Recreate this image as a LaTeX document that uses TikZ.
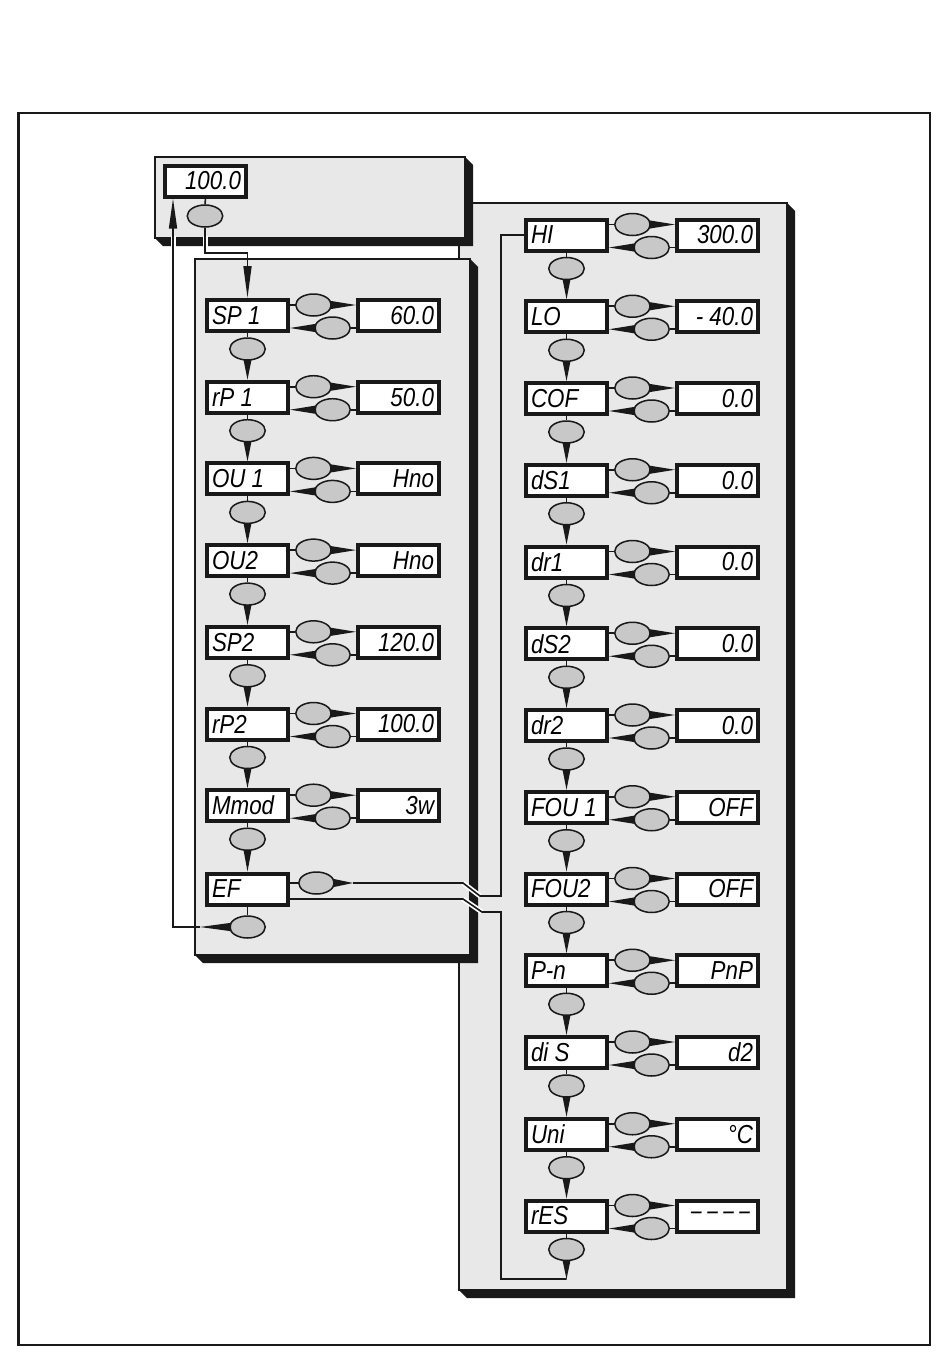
\documentclass[tikz,border=0pt]{standalone}
\usepackage{fontspec}
\setmainfont{Liberation Sans}
\newfontfamily\lcdface[FakeStretch=0.86]{Liberation Sans}
\usetikzlibrary{shapes.geometric,arrows.meta,calc}
\definecolor{panelgray}{RGB}{232,232,232}
\definecolor{keygray}{RGB}{200,200,200}
\definecolor{ink}{RGB}{25,25,25}
\newcommand\lcdfont{\lcdface\fontsize{26}{26}\selectfont\itshape}
\newcommand\lt[1]{\makebox[71pt][l]{#1}}
\newcommand\rt[1]{\makebox[71pt][r]{#1}}
\newcommand\sdash{\scalebox{0.85}[1]{–}}
\newcommand\dashes{\sdash\hspace{5.5pt}\sdash\hspace{5.5pt}\sdash\hspace{5.5pt}\sdash\hspace{3pt}}
\tikzset{
  lcdL/.style={draw=ink, line width=4pt, fill=white, minimum width=81pt, minimum height=31pt,
    inner xsep=5pt, inner ysep=0pt, font=\lcdfont},
  key/.style={ellipse, draw=ink, line width=1.5pt, fill=keygray, minimum width=35.5pt,
    minimum height=22pt, inner sep=0pt},
  conn/.style={draw=ink, line width=1.6pt},
  halo/.style={draw=white, line width=5pt},
  panel/.style={fill=panelgray, draw=ink, line width=2pt},
  frame/.style={draw=ink, line width=2.6pt},
  uparrow/.style={-{Triangle[length=30pt,width=8pt]}},
}
% shadowed panel: x1 y1 x2 y2
\newcommand\shadowpanel[4]{%
  \fill[ink] (#3,#2) -- (#3+8,#2+8) -- (#3+8,#4+8) -- (#1+8,#4+8) -- (#1,#4) -- cycle;
  \draw[panel] (#1,#2) rectangle (#3,#4);}
% horizontal wedge from the east side of a key
\newcommand\wedgeE[2]{\fill[ink] ([xshift=-2pt,yshift=4.2pt]#1.east) -- ([xshift=-2pt,yshift=-4.2pt]#1.east) -- (#2) -- cycle;}
% horizontal wedge from the west side of a key
\newcommand\wedgeW[2]{\fill[ink] ([xshift=2pt,yshift=4.2pt]#1.west) -- ([xshift=2pt,yshift=-4.2pt]#1.west) -- (#2) -- cycle;}
% vertical wedge from the south side of a key
\newcommand\wedgeS[2]{\fill[ink] ([xshift=-4pt,yshift=1pt]#1.south) -- ([xshift=4pt,yshift=1pt]#1.south) -- (#2) -- cycle;}
% one menu row: name, x, y, label, value
\newcommand\menurow[5]{%
  \node[lcdL] (#1) at (#2,#3) {\lt{#4}};
  \node[key] (#1u) at (#2+66,#3-10.5) {};
  \node[key] (#1l) at (#2+85,#3+12.5) {};
  \node[lcdL] (#1v) at (#2+151,#3) {\rt{#5}};
  \draw[conn] (#1u.west -| #1.east) -- (#1u.west);
  \wedgeE{#1u}{#1u.east -| #1v.west}
  \draw[conn] (#1l.east -| #1v.west) -- (#1l.east);
  \wedgeW{#1l}{#1l.west -| #1.east}
  \node[key] (#1d) at (#2,#3+33.5) {};
  \draw[conn] (#1.south) -- (#1d.north);}
\begin{document}
\begin{tikzpicture}[x=1pt,y=-1pt]
\useasboundingbox (0,0) rectangle (950,1365);
\draw[frame] (18.5,113) rectangle (930,1345);
% panels
\shadowpanel{459}{203}{787}{1290}
\shadowpanel{155}{157}{465}{238}
\shadowpanel{195}{259}{470}{955}
% top display
\node[lcdL] (T0) at (205.5,181) {\rt{100.0}};
\node[key] (T0d) at (205,216) {};
\draw[conn] (T0.south) -- (T0d.north);
% left column
\foreach \i/\a/\b in {0/{SP 1}/60.0,1/{rP 1}/50.0,2/{OU 1}/Hno,3/OU2/Hno,4/SP2/120.0,5/rP2/100.0,6/Mmod/3w}{
  \pgfmathsetmacro\yy{315.5+81.7*\i}
  \menurow{L\i}{247.5}{\yy}{\a}{\b}
}
\node[lcdL] (L7) at (247.5,889) {\lt{EF}};
\node[key] (L7u) at (316.5,883) {};
\node[key] (L7d) at (247.5,927) {};
\draw[conn] (L7u.west -| L7.east) -- (L7u.west);
\draw[conn] (L7.south) -- (L7d.north);
\foreach \i [evaluate=\i as \n using int(\i+1)] in {0,...,6}{
  \wedgeS{L\i d}{L\i d.south |- L\n.north}
}
% right column
\foreach \j/\a/\b in {0/HI/300.0,1/LO/{- 40.0},2/COF/0.0,3/dS1/0.0,4/dr1/0.0,5/dS2/0.0,6/dr2/0.0,7/{FOU 1}/OFF,8/FOU2/OFF,9/P-n/PnP,10/{di S}/d2,11/Uni/{°C},12/rES/{\dashes}}{
  \pgfmathsetmacro\yy{235+81.75*\j}
  \menurow{R\j}{566.5}{\yy}{\a}{\b}
}
\foreach \j [evaluate=\j as \n using int(\j+1)] in {0,...,11}{
  \wedgeS{R\j d}{R\j d.south |- R\n.north}
}
% entry from top display into SP 1
\coordinate (a1) at (205,253);
\coordinate (a2) at (247.5,253);
\draw[halo] (T0d.south |- 0,236) -- (T0d.south |- 0,250);
\draw[conn, -{Triangle[length=32pt,width=8pt]}] (T0d.south) -- (a1) -- (a2) -- (L0.north);
% return from EF to top display
\coordinate (r1) at (200,927);
\coordinate (r2) at (173,927);
\wedgeW{L7d}{r1}
\draw[halo] (173,236) -- (173,250);
\draw[conn, uparrow] (r1) -- (r2) -- (r2 |- T0.south);
% EF into HI
\coordinate (e1) at (353,883);
\coordinate (e2) at (463,883);
\coordinate (e3) at (480,896);
\coordinate (e4) at (501,896);
\wedgeE{L7u}{e1}
\draw[halo] (e2) -- (e3);
\draw[conn] (e1) -- (e2) -- (e3) -- (e4) -- (e4 |- R0.west) -- (R0.west);
% return from rES to EF
\coordinate (f1) at (566.5,1279);
\coordinate (f2) at (501,1279);
\coordinate (f3) at (501,912);
\coordinate (f4) at (482,912);
\coordinate (f5) at (463,899);
\wedgeS{R12d}{f1}
\draw[halo] (f4) -- (f5);
\draw[conn] (f1) -- (f2) -- (f3) -- (f4) -- (f5) -- (f5 -| L7.east);
\end{tikzpicture}
\end{document}
